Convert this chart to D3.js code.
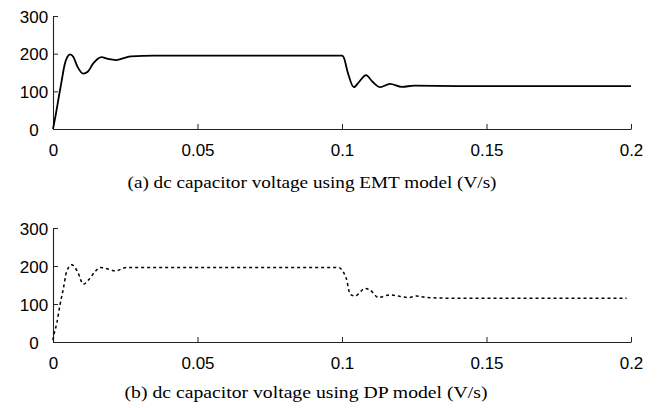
<!DOCTYPE html>
<html>
<head>
<meta charset="utf-8">
<script src="https://cdn.jsdelivr.net/npm/d3@7"></script>
<style>
	body { margin: 0; background: #fff; }
	.tick text { font-family: "Liberation Sans", Arial, Helvetica, sans-serif; font-size: 17px; fill: #000; }
	.caption { font-family: "Liberation Serif", "Times New Roman", serif; font-size: 17px; fill: #000; }
</style>
</head>
<body>
<svg id="chart"></svg>
<script>
// time axis ticks and voltage ticks
const timeTicks = [0, 0.05, 0.1, 0.15, 0.2];
const voltTicks = [0, 100, 200, 300];

// (a) EMT model
const emtT = [0, 0.001, 0.002, 0.003, 0.004, 0.005, 0.0059, 0.007, 0.0085, 0.0105, 0.012, 0.014,
	0.0168, 0.019, 0.022, 0.0245, 0.027, 0.035, 0.05, 0.07, 0.09, 0.1, 0.1006, 0.102,
	0.1041, 0.106, 0.1083, 0.1105, 0.1132, 0.1166, 0.1207, 0.125, 0.14, 0.17, 0.2];
const emtV = [0, 40, 85, 128, 170, 192, 198, 192, 165, 147, 152, 175,
	191, 186, 183, 188, 193, 195, 195, 195, 195, 195, 190, 150,
	111, 126, 143, 126, 111, 120, 112, 115, 114, 114, 114];

// (b) DP model
const dpT = [0, 0.0003, 0.0013, 0.0024, 0.0036, 0.0047, 0.0065, 0.0085, 0.0105, 0.0125, 0.0145,
	0.0163, 0.019, 0.0215, 0.0255, 0.04, 0.06, 0.08, 0.0987, 0.101, 0.1018, 0.1022, 0.103,
	0.1045, 0.108, 0.1097, 0.1126, 0.1166, 0.1207, 0.1229, 0.1258, 0.1293, 0.14, 0.17, 0.1985];
const dpV = [5, 18, 49, 97, 141, 185, 203, 185, 152, 165, 185,
	196, 192, 187, 196, 196, 196, 196, 196, 176, 158, 141, 125,
	121, 141, 137, 117, 124, 119, 117, 121, 117, 115, 115, 115];

const captions = [
	"(a) dc capacitor voltage using EMT model (V/s)",
	"(b) dc capacitor voltage using DP model (V/s)"
];

const width = 672;
const height = 408;

const svg = d3.select("#chart")
	.attr("width", width)
	.attr("height", height);

const panels = [
	{ t: emtT, v: emtV, top: 16, bottom: 129, captionY: 188, dash: null, lw: 1.8, capX: 312, capW: 369 },
	{ t: dpT, v: dpV, top: 228, bottom: 342, captionY: 398, dash: "3,3", lw: 1.5, capX: 306, capW: 363 }
];

const x = d3.scaleLinear().domain([0, 0.2]).range([53, 631]);

panels.forEach((p, i) => {
	const y = d3.scaleLinear().domain([0, 300]).range([p.bottom, p.top]);
	const g = svg.append("g");

	const xAxis = g.append("g")
		.attr("transform", `translate(0, ${p.bottom})`)
		.call(d3.axisBottom(x)
			.tickValues(timeTicks)
			.tickFormat(d3.format("~g"))
			.tickSizeInner(-5)
			.tickSizeOuter(0)
			.tickPadding(15));

	const yAxis = g.append("g")
		.attr("transform", `translate(${x(0)}, 0)`)
		.call(d3.axisLeft(y)
			.tickValues(voltTicks)
			.tickSizeInner(-5)
			.tickSizeOuter(0)
			.tickPadding(7));

	[xAxis, yAxis].forEach((a) => {
		a.select(".domain").attr("stroke", "#222").attr("stroke-width", 1.1);
		a.selectAll(".tick line").attr("stroke", "#222");
	});
	// the y labels sit centred in the left margin
	yAxis.selectAll(".tick text")
		.attr("text-anchor", "middle")
		.attr("x", -19)
		.attr("dy", "0.36em");

	const line = d3.line()
		.x((d) => x(d[0]))
		.y((d) => y(d[1]))
		.curve(d3.curveMonotoneX);

	const pts = p.t.map((t, k) => [t, p.v[k]]);
	g.append("path")
		.datum(pts)
		.attr("d", line)
		.attr("fill", "none")
		.attr("stroke", "#000")
		.attr("stroke-width", p.lw)
		.attr("stroke-dasharray", p.dash);

	g.append("text")
		.attr("class", "caption")
		.attr("x", p.capX)
		.attr("y", p.captionY)
		.attr("text-anchor", "middle")
		.attr("textLength", p.capW)
		.attr("lengthAdjust", "spacingAndGlyphs")
		.text(captions[i]);
});
</script>
</body>
</html>
